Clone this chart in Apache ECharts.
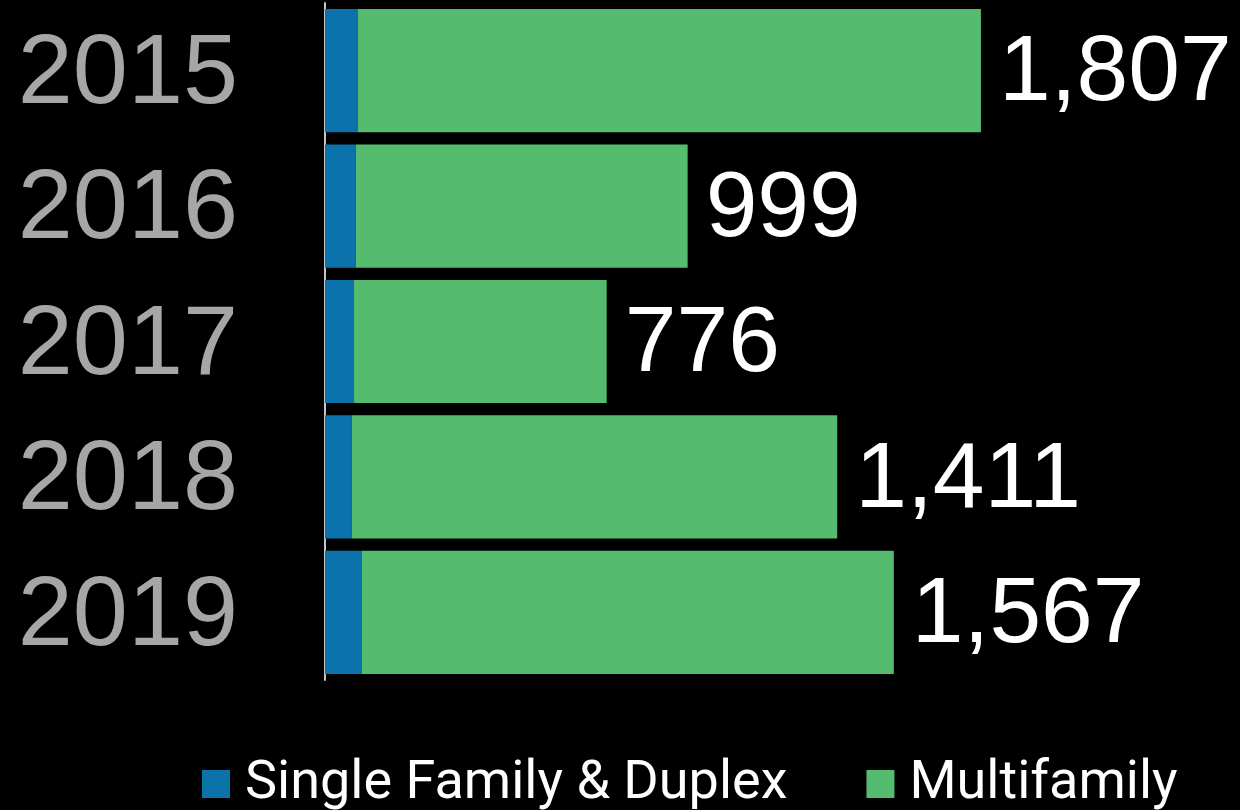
<!DOCTYPE html>
<html>
<head>
<meta charset="utf-8">
<script src="https://cdn.jsdelivr.net/npm/echarts@6/dist/echarts.min.js"></script>
<style>
html,body{margin:0;padding:0;background:#000;}
#chart{width:1240px;height:810px;}
</style>
</head>
<body>
<div id="chart"></div>
<script>
var years = ['2015', '2016', '2017', '2018', '2019'];
var singleFamily = [91, 85, 80, 74, 101];
var multifamily = [1716, 914, 696, 1337, 1466];
var totals = [1807, 999, 776, 1411, 1567];
var seriesNames = ['Single Family & Duplex', 'Multifamily'];

var chart = echarts.init(document.getElementById('chart'));
chart.setOption({
  backgroundColor: '#000',
  animation: false,
  grid: { left: 325, right: 189, top: 3, bottom: 130 },
  legend: {
    data: seriesNames,
    left: 197,
    top: 752,
    itemWidth: 28,
    itemHeight: 28,
    itemGap: 79,
    icon: 'rect',
    textStyle: { color: '#fff', fontFamily: 'Roboto', fontSize: 54, padding: [0, 0, 0, 10] }
  },
  xAxis: {
    type: 'value',
    min: 0,
    max: 2000,
    show: false
  },
  yAxis: {
    type: 'category',
    data: years,
    inverse: true,
    axisLine: { show: true, lineStyle: { color: '#c4c4c4', width: 2 } },
    axisTick: { show: false },
    axisLabel: {
      margin: 87,
      formatter: function (v) { return '{y|' + v + '}'; },
      rich: {
        y: { color: '#a6a6a6', fontFamily: 'Liberation Sans', fontSize: 99, padding: [10, 0, 0, 0] }
      }
    }
  },
  series: [
    {
      name: seriesNames[0],
      type: 'bar',
      stack: 'total',
      data: singleFamily,
      barCategoryGap: '9%',
      itemStyle: { color: '#0B72AB' }
    },
    {
      name: seriesNames[1],
      type: 'bar',
      stack: 'total',
      data: multifamily,
      barCategoryGap: '9%',
      itemStyle: { color: '#55BB6E' },
      label: {
        show: true,
        position: 'right',
        distance: 18,
        offset: [0, 4],
        color: '#fff',
        fontFamily: 'Liberation Sans',
        fontSize: 93,
        formatter: function (p) { return totals[p.dataIndex].toLocaleString('en-US'); }
      }
    }
  ]
});
</script>
</body>
</html>
